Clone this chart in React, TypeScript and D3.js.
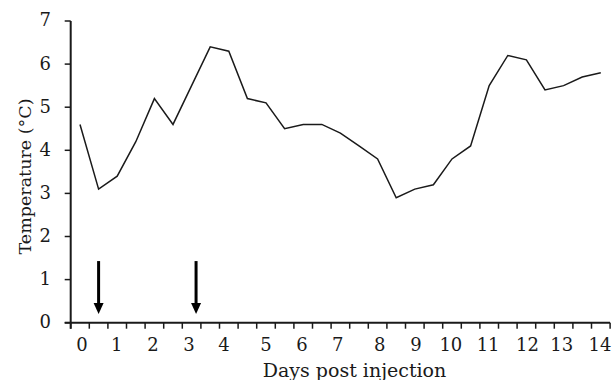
import React from "react";
import * as d3 from "d3";

const days: number[] = [0, 0.5, 1, 1.5, 2, 2.5, 3, 3.5, 4, 4.5, 5, 5.5, 6, 6.5, 7, 7.5, 8, 8.5, 9, 9.5, 10, 10.5, 11, 11.5, 12, 12.5, 13, 13.5, 14];
const temps: number[] = [4.6, 3.1, 3.4, 4.2, 5.2, 4.6, 5.5, 6.4, 6.3, 5.2, 5.1, 4.5, 4.6, 4.6, 4.4, 4.1, 3.8, 2.9, 3.1, 3.2, 3.8, 4.1, 5.5, 6.2, 6.1, 5.4, 5.5, 5.7, 5.8];
const xTickLabels: string[] = ["0", "1", "2", "3", "4", "5", "6", "7", "8", "9", "10", "11", "12", "13", "14"];
const xTickLabelPos: number[] = [0.05, 0.99, 1.96, 2.93, 3.87, 5.0, 5.97, 6.93, 8.06, 9.03, 9.97, 10.97, 12.03, 12.95, 13.98];
const xTickMarks: number[] = d3.range(0, 30).map((k) => -0.25 + 0.5 * k);
const yTicks: number[] = [0, 1, 2, 3, 4, 5, 6, 7];
const arrowDays: number[] = [0.5, 3.12];
const arrowTop = 1.43;
const arrowTip = 0.2;

const FONT = "'DejaVu Serif', serif";

export default function App() {
  const x = d3.scaleLinear().domain([0, 14]).range([80, 600.8]);
  const y = d3.scaleLinear().domain([0, 7]).range([322.7, 21]);
  const line = d3
    .line<number>()
    .x((_, i) => x(days[i]))
    .y((d) => y(d));
  const axisX = x(-0.25);
  const axisEnd = x(14.25);
  const c = "#1a1a1a";

  return (
    <svg
      width={613}
      height={380}
      style={{ position: "absolute", left: 0, top: 0, background: "#fff" }}
      fontFamily={FONT}
    >
      {/* y axis */}
      <line x1={axisX} x2={axisX} y1={y(7)} y2={y(0) + 6} stroke={c} strokeWidth={2} />
      {yTicks.map((t) => (
        <g key={t}>
          <line x1={axisX - 6} x2={axisX} y1={y(t)} y2={y(t)} stroke={c} strokeWidth={1.5} />
          <text x={51} y={y(t)} dy="0.3em" textAnchor="end" fontSize={18} fill={c}>
            {t}
          </text>
        </g>
      ))}
      {/* x axis */}
      <line x1={axisX - 6} x2={axisEnd} y1={y(0)} y2={y(0)} stroke={c} strokeWidth={2} />
      {xTickMarks.map((t, i) => (
        <line key={i} x1={x(t)} x2={x(t)} y1={y(0)} y2={y(0) + 6} stroke={c} strokeWidth={1.5} />
      ))}
      {xTickLabels.map((lab, i) => (
        <text key={lab} x={x(xTickLabelPos[i])} y={351} textAnchor="middle" fontSize={18} fill={c}>
          {lab}
        </text>
      ))}
      <text x={354.5} y={376.5} textAnchor="middle" fontSize={19} fill={c}>
        Days post injection
      </text>
      <text
        transform={`translate(31, 176.5) rotate(-90)`}
        textAnchor="middle"
        fontSize={17.5}
        fill={c}
      >
        Temperature (°C)
      </text>
      {/* data line */}
      <path d={line(temps) || ""} fill="none" stroke={c} strokeWidth={1.5} strokeLinejoin="miter" />
      {/* arrows */}
      {arrowDays.map((d, i) => {
        const ax = x(d);
        const top = y(arrowTop);
        const tip = y(arrowTip);
        const headH = 11;
        return (
          <g key={i}>
            <line x1={ax} x2={ax} y1={top} y2={tip - headH + 2} stroke="#000" strokeWidth={3} />
            <path d={`M${ax - 5},${tip - headH} L${ax + 5},${tip - headH} L${ax},${tip} Z`} fill="#000" />
          </g>
        );
      })}
    </svg>
  );
}
